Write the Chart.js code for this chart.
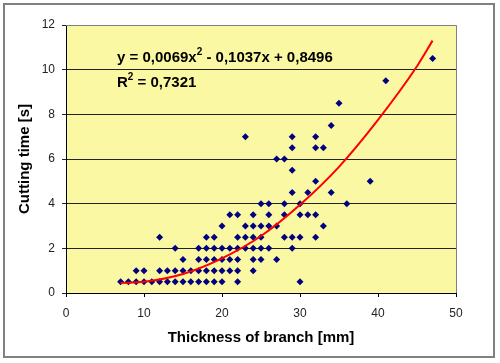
<!DOCTYPE html>
<html>
<head>
<meta charset="utf-8">
<script src="https://cdn.jsdelivr.net/npm/chart.js@4.4.0/dist/chart.umd.min.js"></script>
<style>
  html, body { margin: 0; padding: 0; background: #fff; }
  #wrap { width: 500px; height: 363px; }
</style>
</head>
<body>
<div id="wrap"><canvas id="chart" width="500" height="363"></canvas></div>
<script>
// measured points: thickness of branch [mm] vs cutting time [s]
const thickness = [
  7, 8, 9, 10, 11, 12, 13, 14, 15, 16, 17, 18, 19, 20, 22, 30,
  9, 10, 12, 13, 14, 15, 16, 17, 18, 19, 20, 21, 22, 24,
  15, 17, 18, 19, 20, 21, 22, 24, 25, 27,
  14, 17, 18, 19, 20, 21, 22, 23, 24, 25, 26, 29,
  12, 18, 19, 22, 23, 24, 25, 28, 29, 30, 32,
  20, 23, 24, 25, 26, 27, 33,
  21, 22, 24, 26, 28, 30, 31, 32,
  25, 26, 28, 30, 36,
  29, 31, 34,
  32, 39,
  29,
  27, 28,
  29, 32, 33,
  23, 29, 32,
  34, 35, 41, 47
];
const cuttingTime = [
  0.5, 0.5, 0.5, 0.5, 0.5, 0.5, 0.5, 0.5, 0.5, 0.5, 0.5, 0.5, 0.5, 0.5, 0.5, 0.5,
  1, 1, 1, 1, 1, 1, 1, 1, 1, 1, 1, 1, 1, 1,
  1.5, 1.5, 1.5, 1.5, 1.5, 1.5, 1.5, 1.5, 1.5, 1.5,
  2, 2, 2, 2, 2, 2, 2, 2, 2, 2, 2, 2,
  2.5, 2.5, 2.5, 2.5, 2.5, 2.5, 2.5, 2.5, 2.5, 2.5, 2.5,
  3, 3, 3, 3, 3, 3, 3,
  3.5, 3.5, 3.5, 3.5, 3.5, 3.5, 3.5, 3.5,
  4, 4, 4, 4, 4,
  4.5, 4.5, 4.5,
  5, 5,
  5.5,
  6, 6,
  6.5, 6.5, 6.5,
  7, 7, 7,
  7.5, 8.5, 9.5, 10.5
];

// trend line (polynomial)
const trendX = [7, 10, 15, 20, 25, 30, 35, 40, 45, 47];
const trendY = [0.45, 0.5, 0.85, 1.55, 2.55, 3.95, 5.65, 7.75, 10.15, 11.3];

const xTicks = [0, 10, 20, 30, 40, 50];
const yTicks = [0, 2, 4, 6, 8, 10, 12];

const eqLine = ["y = 0,0069x", "2", " - 0,1037x + 0,8496"];
const r2Line = ["R", "2", " = 0,7321"];

const points = thickness.map((x, i) => ({ x: x, y: cuttingTime[i] }));
const trend = trendX.map((x, i) => ({ x: x, y: trendY[i] }));

const FONT = "Arial, 'Liberation Sans', sans-serif";

// frame, plot background, equation
const excelLook = {
  id: "excelLook",
  beforeDraw(chart) {
    const ctx = chart.ctx;
    const a = chart.chartArea;
    ctx.save();
    ctx.fillStyle = "#fff";
    ctx.fillRect(0, 0, chart.width, chart.height);
    ctx.strokeStyle = "#808080";
    ctx.lineWidth = 2;
    ctx.strokeRect(4, 4, 490, 353);
    ctx.fillStyle = "#fbf8a3";
    ctx.fillRect(a.left, a.top, a.right - a.left, a.bottom - a.top);
    ctx.restore();
  },
  afterDraw(chart) {
    const ctx = chart.ctx;
    const a = chart.chartArea;
    ctx.save();
    ctx.strokeStyle = "#808080";
    ctx.lineWidth = 1;
    ctx.beginPath();
    ctx.moveTo(a.left, a.top + 0.5);
    ctx.lineTo(a.right + 0.5, a.top + 0.5);
    ctx.lineTo(a.right + 0.5, a.bottom);
    ctx.stroke();

    function drawParts(parts, x, y) {
      parts.forEach((p, i) => {
        if (i === 1) {
          ctx.font = "bold 10px " + FONT;
          ctx.fillText(p, x, y - 7);
        } else {
          ctx.font = "bold 15px " + FONT;
          ctx.fillText(p, x, y);
        }
        x += ctx.measureText(p).width;
      });
    }
    ctx.fillStyle = "#000";
    ctx.textBaseline = "alphabetic";
    drawParts(eqLine, 117, 62);
    drawParts(r2Line, 117, 87);
    ctx.restore();
  }
};

new Chart(document.getElementById("chart"), {
  type: "scatter",
  data: {
    datasets: [
      {
        label: "Cutting time",
        data: points,
        pointStyle: "rectRot",
        pointRadius: 3.5,
        pointBackgroundColor: "#000080",
        pointBorderColor: "#000080",
        pointBorderWidth: 0,
        showLine: false,
        order: 2
      },
      {
        label: "Trend",
        data: trend,
        showLine: true,
        borderColor: "#ff0000",
        borderWidth: 2,
        pointRadius: 0,
        tension: 0.4,
        cubicInterpolationMode: "monotone",
        order: 1
      }
    ]
  },
  options: {
    responsive: false,
    animation: false,
    layout: { padding: { top: 25, right: 44, left: 0, bottom: 0 } },
    plugins: {
      legend: { display: false },
      tooltip: { enabled: false }
    },
    scales: {
      x: {
        type: "linear",
        min: 0,
        max: 50,
        afterBuildTicks(scale) {
          scale.ticks = xTicks.map((v) => ({ value: v }));
        },
        afterFit(scale) {
          scale.height = 70;
        },
        grid: {
          drawOnChartArea: false,
          drawTicks: true,
          tickLength: 4,
          color: "#000"
        },
        border: { color: "#000", width: 1 },
        ticks: {
          padding: 9,
          color: "#222",
          font: { family: FONT, size: 12 }
        },
        title: {
          display: true,
          text: "Thickness of branch [mm]",
          color: "#000",
          padding: 16,
          font: { family: FONT, size: 15, weight: "bold" }
        }
      },
      y: {
        type: "linear",
        min: 0,
        max: 12,
        afterBuildTicks(scale) {
          scale.ticks = yTicks.map((v) => ({ value: v }));
        },
        afterFit(scale) {
          scale.width = 66;
        },
        grid: {
          color: "#222",
          lineWidth: 1,
          drawTicks: true,
          tickLength: 4
        },
        border: { color: "#000", width: 1 },
        ticks: {
          padding: 7,
          color: "#222",
          font: { family: FONT, size: 12 }
        },
        title: {
          display: true,
          text: "Cutting time [s]",
          color: "#000",
          padding: 16,
          font: { family: FONT, size: 15, weight: "bold" }
        }
      }
    }
  },
  plugins: [excelLook]
});
</script>
</body>
</html>
